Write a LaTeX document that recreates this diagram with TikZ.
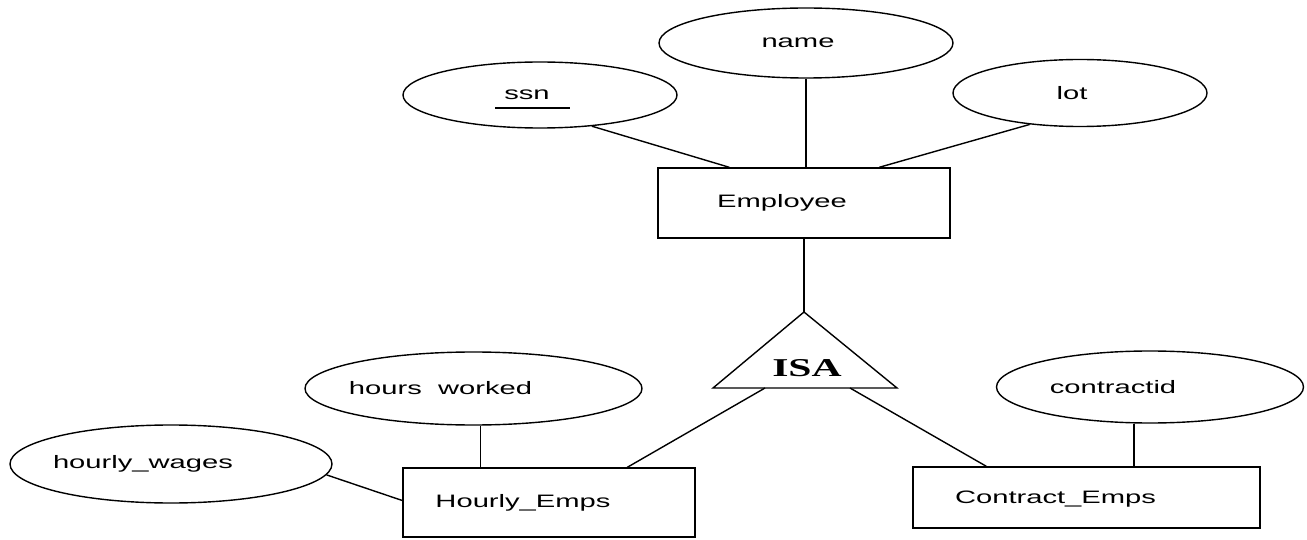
\documentclass[tikz,border=0pt]{standalone}
\usepackage{fontspec}
\setmainfont{Liberation Sans}
\newfontfamily\isafont{Liberation Serif}
\usetikzlibrary{shapes.geometric}
\newcommand{\wt}[1]{\scalebox{1.62}[1]{#1}}
\tikzset{
  attr/.style={draw, ellipse, inner sep=0pt, line width=1.4pt},
  ent/.style={draw, rectangle, inner sep=0pt, line width=1.4pt},
  lbl/.style={font=\fontsize{18}{20}\selectfont, inner sep=0pt},
  conn/.style={line width=1.4pt}
}
\begin{document}
\begin{tikzpicture}[x=1pt,y=-1pt]
\useasboundingbox (0,0) rectangle (1307,540);
% attributes of Employee
\node[attr, minimum width=294pt, minimum height=70pt,
      label={[lbl,xshift=-8pt]center:\wt{name}}] (name) at (806,43) {};
\node[attr, minimum width=274pt, minimum height=66pt,
      label={[lbl,xshift=-13pt]center:\wt{ssn}}] (ssn) at (540,95) {};
\node[attr, minimum width=254pt, minimum height=67pt,
      label={[lbl,xshift=-8pt]center:\wt{lot}}] (lot) at (1080,93) {};
% entities
\node[ent, minimum width=292pt, minimum height=70pt,
      label={[lbl,xshift=-22pt]center:\wt{Employee}}] (emp) at (804,203) {};
\node[ent, minimum width=292pt, minimum height=69pt,
      label={[lbl,xshift=-26pt]center:\wt{Hourly\_Emps}}] (hemp) at (549,502.5) {};
\node[ent, minimum width=347pt, minimum height=61pt,
      label={[lbl,xshift=-31pt,yshift=-2pt]center:\wt{Contract\_Emps}}] (cemp) at (1086.5,497.5) {};
% attributes of subclasses
\node[attr, minimum width=337pt, minimum height=73pt,
      label={[lbl,xshift=-33pt]center:\wt{hours\ \ worked}}] (hw) at (473.5,388.5) {};
\node[attr, minimum width=322pt, minimum height=78pt,
      label={[lbl,xshift=-28pt]center:\wt{hourly\_wages}}] (hwg) at (171,464) {};
\node[attr, minimum width=307pt, minimum height=72pt,
      label={[lbl,xshift=-37pt]center:\wt{contractid}}] (cid) at (1150,387) {};
% ISA triangle
\coordinate (isatop) at (804,312);
\coordinate (isabl) at (765,388);
\coordinate (isabr) at (850,388);
\draw[conn, line join=miter] (isatop) -- (713,388) -- (897,388) -- cycle;
\node[font=\isafont\bfseries\fontsize{25.7}{28}\selectfont, inner sep=0pt] (isa) at (807,368) {\scalebox{1.62}[1]{ISA}};
% underline of key
\draw[line width=1.1pt] ([xshift=-45pt,yshift=-13pt]ssn.center) -- ++(75,0);
% connectors
\draw[conn] (name.south) -- (name.south |- emp.north);
\draw[conn] (ssn.-31) -- ([xshift=72pt]emp.north west);
\draw[conn] (lot.212) -- ([xshift=222pt]emp.north west);
\draw[conn] (emp.south) -- (isatop);
\draw[conn] (isabl) -- ([xshift=225pt]hemp.north west);
\draw[conn] (isabr) -- ([xshift=74pt]cemp.north west);
\draw[conn] ([xshift=7pt]hw.south) -- ([xshift=7pt]hw.south |- hemp.north);
\draw[conn] (hwg.-4) -- ([yshift=2pt]hemp.west);
\draw[conn] ([xshift=-16pt]cid.south) -- ([xshift=-16pt]cid.south |- cemp.north);
\end{tikzpicture}
\end{document}
